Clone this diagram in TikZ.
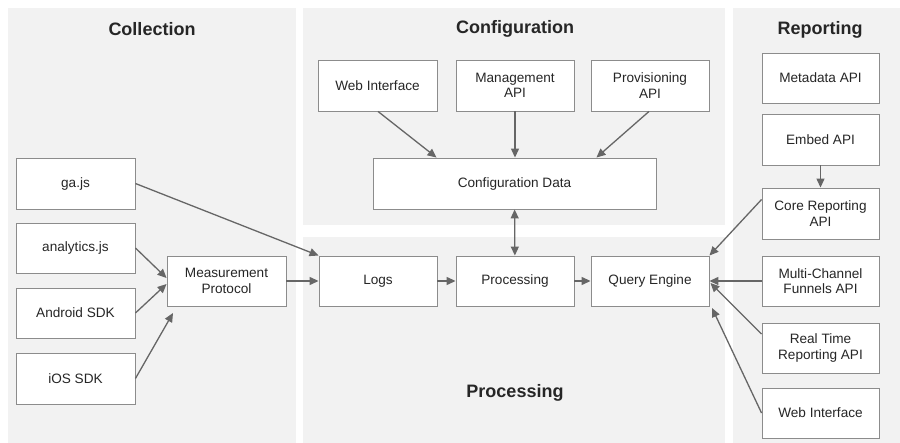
\documentclass[tikz,border=0pt]{standalone}
\usepackage{fontspec}
\setmainfont{Liberation Sans}
\usetikzlibrary{arrows.meta,calc}
\definecolor{panelgray}{HTML}{F2F2F2}
\definecolor{boxline}{HTML}{8C8C8C}
\definecolor{arrowgray}{HTML}{666666}
\tikzset{
  box/.style={draw=boxline, fill=white, line width=0.9pt, align=center,
    minimum width=118pt, minimum height=50pt, inner sep=2pt,
    font=\fontsize{13.6}{15.5}\selectfont, text=black!85},
  panel/.style={fill=panelgray, draw=none},
  paneltitle/.style={font=\bfseries\fontsize{18}{20}\selectfont, text=black!85},
  conn/.style={draw=arrowgray, line width=1.3pt, -{Triangle[length=9pt,width=8pt]}},
  conn2/.style={draw=arrowgray, line width=1.3pt, {Triangle[length=9pt,width=8pt]}-{Triangle[length=9pt,width=8pt]}}
}
\begin{document}
\begin{tikzpicture}[x=1pt,y=-1pt]
\useasboundingbox (0,0) rectangle (900,443);
\fill[white] (0,0) rectangle (900,443);
% panels
\fill[panel] (8,8) rectangle (296,443);
\fill[panel] (303,8) rectangle (725,225);
\fill[panel] (303,237) rectangle (725,443);
\fill[panel] (733,8) rectangle (900,443);
% titles
\node[paneltitle] (tcol) at (152,29) {Collection};
\node[paneltitle] (tconf) at (515,29) {Configuration};
\node[paneltitle] (tproc) at (515,393) {Processing};
\node[paneltitle] (trep) at (820,30) {Reporting};
% collection
\node[box, minimum width=119pt, minimum height=51pt] (ga) at (75.5,183.5) {ga.js};
\node[box, minimum width=119pt] (ajs) at (75.5,248) {analytics.js};
\node[box, minimum width=119pt] (and) at (75.5,313) {Android SDK};
\node[box, minimum width=119pt, minimum height=51pt] (ios) at (75.5,378.5) {iOS SDK};
\node[box, minimum width=119pt] (mp) at (226.5,281) {Measurement\\Protocol};
% configuration
\node[box, minimum width=119pt, minimum height=51pt] (cweb) at (377.5,85.5) {Web Interface};
\node[box, minimum height=51pt] (mgmt) at (515,85.5) {Management\\API};
\node[box, minimum height=51pt] (prov) at (650,85.5) {Provisioning\\API};
\node[box, minimum width=283pt, minimum height=51pt] (cdata) at (514.5,183.5) {Configuration Data};
% processing
\node[box] (logs) at (378,281) {Logs};
\node[box] (proc) at (515,281) {Processing};
\node[box] (qe) at (650,281) {Query Engine};
% reporting
\node[box, minimum width=117pt] (meta) at (820.5,78) {Metadata API};
\node[box, minimum width=117pt, minimum height=51pt] (embed) at (820.5,139.5) {Embed API};
\node[box, minimum width=117pt, minimum height=51pt] (core) at (820.5,213.5) {Core Reporting\\API};
\node[box, minimum width=117pt] (mcf) at (820.5,281) {Multi-Channel\\Funnels API};
\node[box, minimum width=117pt] (rt) at (820.5,348) {Real Time\\Reporting API};
\node[box, minimum width=117pt] (rweb) at (820.5,413) {Web Interface};
% helper coordinates
\coordinate (iosend) at (173,313);
\coordinate (weend) at (712,308);
% connectors
\draw[conn] (ga.east) -- (logs.north west);
\draw[conn] (ajs.east) -- ($(mp.west)+(0,-3)$);
\draw[conn] (and.east) -- ($(mp.west)+(0,3)$);
\draw[conn] (ios.east) -- (iosend);
\draw[conn] (mp) -- (logs);
\draw[conn] (logs) -- (proc);
\draw[conn] (proc) -- (qe);
\draw[conn2] (cdata) -- (proc);
\draw[conn] ($(cweb.south)+(0.5,0)$) -- ($(cdata.north west)+(64,0)$);
\draw[conn] (mgmt) -- (mgmt |- cdata.north);
\draw[conn] ($(prov.south)+(-1,0)$) -- ($(cdata.north east)+(-60,0)$);
\draw[conn] (embed) -- (core);
\draw[conn] ($(core.west)+(0,-14)$) -- (qe.north east);
\draw[conn] (mcf) -- (qe);
\draw[conn] ($(rt.west)+(0,-14)$) -- ($(qe.east)+(1,2)$);
\draw[conn] ($(rweb.west)+(0,0)$) -- (weend);
\end{tikzpicture}
\end{document}
